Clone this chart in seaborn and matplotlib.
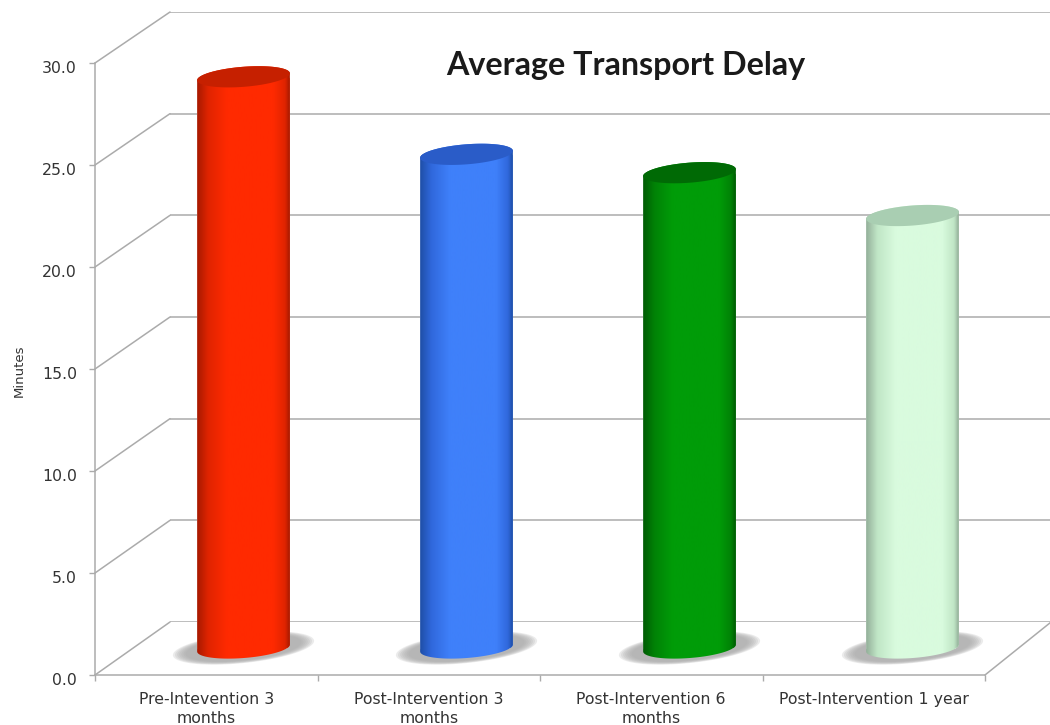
import numpy as np
import pandas as pd
import matplotlib
matplotlib.use('Agg')
import matplotlib.pyplot as plt
import seaborn as sns
from matplotlib.colors import LinearSegmentedColormap
from matplotlib.lines import Line2D
from matplotlib.patches import PathPatch, Polygon
from matplotlib.path import Path
from matplotlib.transforms import IdentityTransform, ScaledTranslation

categories = ['Pre-Intevention 3\nmonths', 'Post-Intervention 3\nmonths',
              'Post-Intervention 6\nmonths', 'Post-Intervention 1 year']
minutes = [28.0, 24.2, 23.3, 21.2]
y_ticks = [0, 5, 10, 15, 20, 25, 30]

bright = ['#ff2a00', '#3f80fa', '#009c08', '#d9fbde']
mid = ['#e02400', '#3068dc', '#008206', '#c0e6c6']
dark = ['#a81a00', '#1f4fa8', '#005c04', '#94b09a']
caps = ['#c62000', '#2a5cc8', '#006a05', '#a9ceb2']

W, H = 1050, 725
GRID = '#ababab'
TEXT = '#333333'
LW = 1.1


def box(left, right, top, bottom):
    return [left / W, 1 - bottom / H, (right - left) / W, (bottom - top) / H]


sns.set_theme(style='white')
plt.rcParams['font.family'] = ['DejaVu Sans']

fig = plt.figure(figsize=(W / 100, H / 100), dpi=100)

# back wall, only its gridlines show
wall = fig.add_axes(box(170, 1060, 12, 622), zorder=0)
wall.set_xlim(0, 1)
wall.set_ylim(0, 30)
wall.set_xticks([])
wall.set_yticks(y_ticks)
wall.tick_params(left=False, labelleft=False)
wall.grid(axis='y', color=GRID, lw=LW)
sns.despine(ax=wall, left=True, bottom=True)

# front plane with the axis lines and labels
front = fig.add_axes(box(95, 985, 63, 675), zorder=1)
front.patch.set_alpha(0)
front.set_xlim(-0.5, 3.5)
front.set_ylim(0, 30)
front.set_yticks(y_ticks)
front.set_yticklabels([f'{v:.1f}' for v in y_ticks], fontsize=11.3, color=TEXT, family='DejaVu Sans')
front.set_xticks(np.arange(-0.5, 4))
front.set_xticklabels([])
front.set_xticks(range(4), categories, minor=True, fontsize=11.3, color=TEXT, linespacing=1.3)
front.tick_params(axis='x', which='minor', length=0, pad=12.5)
front.tick_params(axis='both', which='major', length=4, width=1, color=GRID, left=True, bottom=True)
front.tick_params(axis='y', pad=9)
for s in ['left', 'bottom']:
    front.spines[s].set_color(GRID)
    front.spines[s].set_linewidth(LW)
sns.despine(ax=front)
for lab in front.get_yticklabels():
    lab.set_transform(lab.get_transform() + ScaledTranslation(0, -4 / 100, fig.dpi_scale_trans))
front.set_ylabel('Minutes', fontsize=9.5, color=TEXT, labelpad=0)
front.yaxis.set_label_coords((26 - 95) / 890, 0.497)

# diagonals joining the front plane to the wall
for v in y_ticks:
    p0 = front.transData.transform((-0.5, v))
    p1 = wall.transData.transform((0, v))
    fig.add_artist(Line2D([p0[0], p1[0]], [p0[1], p1[1]], color=GRID, lw=LW,
                          transform=IdentityTransform()))
p0 = front.transData.transform((3.5, 0))
p1 = wall.transData.transform((0.99, 0))
fig.add_artist(Line2D([p0[0], p1[0]], [p0[1], p1[1]], color=GRID, lw=LW,
                      transform=IdentityTransform()))

# cylinders live half way into the depth of the box
bars = fig.add_axes(box(132, 1024, 36, 648 + 3 * 20.4), zorder=3)
bars.patch.set_alpha(0)
df = pd.DataFrame({'category': categories, 'minutes': minutes})
sns.barplot(data=df, x='category', y='minutes', hue='category', palette=bright,
            saturation=1, width=93 / 223, legend=False, ax=bars)
bars.set_xlim(-0.5, 3.5)
bars.set_ylim(-3, 30)
bars.axis('off')

PX_X = 223.0
PX_Y = 20.4
TILT = np.radians(4.5)


def ellipse(cx, cy, rx, ry, t, tilt=TILT):
    # rx, ry in pixels, result in data units of the bars axes
    dx = rx * np.cos(t) * np.cos(tilt) - ry * np.sin(t) * np.sin(tilt)
    dy = rx * np.cos(t) * np.sin(tilt) + ry * np.sin(t) * np.cos(tilt)
    return np.column_stack([cx + dx / PX_X, cy + dy / PX_Y])


for i, bar in enumerate(bars.patches):
    cx = bar.get_x() + bar.get_width() / 2
    top = bar.get_height()
    rx = bar.get_width() / 2 * PX_X

    # blurred floor shadow
    for scale in np.linspace(1.0, 0.82, 7):
        pts = ellipse(cx, 0, 71 * scale, 15 * scale, np.linspace(0, 2 * np.pi, 80), np.radians(6))
        bars.add_patch(Polygon(pts, closed=True, fc='#a8a8a8', ec='none', alpha=0.22, zorder=1))

    lower = ellipse(cx, 0, rx, 10, np.linspace(np.pi, 2 * np.pi, 60))
    upper = ellipse(cx, top, rx, 10, np.linspace(0, np.pi, 60))
    outline = np.vstack([lower, upper, lower[:1]])
    clip = PathPatch(Path(outline), transform=bars.transData, fc='none', ec='none')
    bars.add_patch(clip)
    bar.set_clip_path(clip)
    bar.set_zorder(2)

    cmap = LinearSegmentedColormap.from_list(f'cyl{i}', [(0, dark[i]), (0.12, mid[i]), (0.32, bright[i]),
                                                         (0.82, bright[i]), (0.95, mid[i]), (1, dark[i])])
    img = bars.imshow(np.linspace(0, 1, 200).reshape(1, -1), cmap=cmap, aspect='auto', zorder=3,
                      extent=[cx - bar.get_width() / 2, cx + bar.get_width() / 2, -2, top + 1])
    img.set_clip_path(clip)

    cap = ellipse(cx, top, rx, 10, np.linspace(0, 2 * np.pi, 100))
    bars.add_patch(Polygon(cap, closed=True, fc=caps[i], ec='none', zorder=4))

bars.set_xlim(-0.5, 3.5)
bars.set_ylim(-3, 30)

fig.text(626 / W, 1 - 66 / H, 'Average Transport Delay', family='Lato', fontweight='bold',
         fontsize=23.2, color='#1a1a1a', ha='center', va='center', zorder=5)

fig.savefig('out.png', dpi=100)
